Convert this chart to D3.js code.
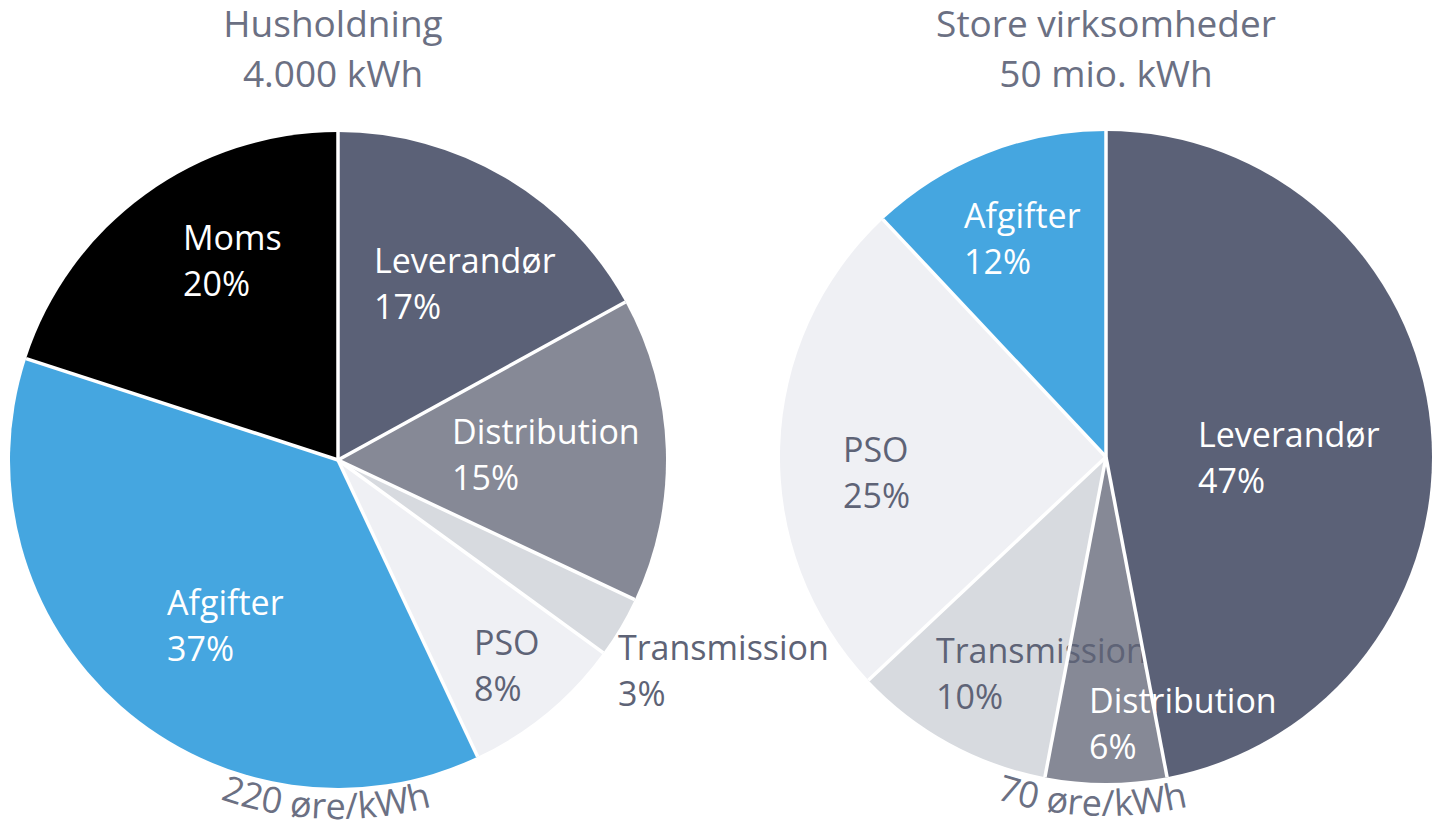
<!DOCTYPE html>
<html>
<head>
<meta charset="utf-8">
<script src="https://cdn.jsdelivr.net/npm/d3@7"></script>
<style>
  html, body { margin: 0; padding: 0; background: #ffffff; }
  svg { display: block; }
  text { font-family: "Open Sans", "Noto Sans", sans-serif; }
</style>
</head>
<body>
<svg id="chart" width="1433" height="824"></svg>
<script>
// ---- Data ----
const householdCategories = ["Leverandør", "Distribution", "Transmission", "PSO", "Afgifter", "Moms"];
const householdShares     = [17, 15, 3, 8, 37, 20];
const businessCategories  = ["Leverandør", "Distribution", "Transmission", "PSO", "Afgifter"];
const businessShares      = [47, 6, 10, 25, 12];
const pieTitles    = [["Husholdning", "4.000 kWh"], ["Store virksomheder", "50 mio. kWh"]];
const pieTotals    = ["220 øre/kWh", "70 øre/kWh"];

// ---- Styling ----
const colorMap = {
  "Leverandør":   "#5b6177",
  "Distribution": "#868996",
  "Transmission": "#d7dadf",
  "PSO":          "#eff0f4",
  "Afgifter":     "#45a6e0",
  "Moms":         "#000000"
};
const labelColor = {
  "Leverandør": "#ffffff", "Distribution": "#ffffff", "Afgifter": "#ffffff", "Moms": "#ffffff",
  "Transmission": "#5e6376", "PSO": "#5e6376"
};
const titleColor = "#6b7083";
const fontSize = 34;
const titleSize = 37;

// label anchor offsets relative to pie centre (layout only)
const householdLabelOffsets = {
  "Leverandør": [36, -187], "Distribution": [114, -16], "Transmission": [280, 200],
  "PSO": [136, 195], "Afgifter": [-171, 155], "Moms": [-155, -210]
};
const businessLabelOffsets = {
  "Leverandør": [92, -10], "Distribution": [-17, 256], "Transmission": [-170, 206],
  "PSO": [-263, 5], "Afgifter": [-142, -229]
};

const svg = d3.select("#chart");

function drawPie(cfg) {
  const g = svg.append("g").attr("transform", `translate(${cfg.cx},${cfg.cy})`);
  const data = cfg.categories.map((c, i) => ({ cat: c, value: cfg.values[i] }));
  const pie = d3.pie().sort(null).value(d => d.value);
  const arc = d3.arc().innerRadius(0).outerRadius(cfg.r);
  const arcs = pie(data);

  g.selectAll("path.slice")
    .data(arcs)
    .join("path")
    .attr("class", "slice")
    .attr("d", arc)
    .attr("fill", d => colorMap[d.data.cat]);

  // labels
  const lab = g.selectAll("text.lab")
    .data(arcs)
    .join("text")
    .attr("class", "lab")
    .attr("x", d => cfg.offsets[d.data.cat][0])
    .attr("y", d => cfg.offsets[d.data.cat][1])
    .attr("fill", d => labelColor[d.data.cat])
    .attr("font-size", fontSize);
  lab.append("tspan").text(d => d.data.cat);
  lab.append("tspan")
    .attr("x", d => cfg.offsets[d.data.cat][0])
    .attr("dy", 46)
    .text(d => d.data.value + "%");

  // white separators drawn above labels
  g.selectAll("line.sep")
    .data(arcs)
    .join("line")
    .attr("class", "sep")
    .attr("x1", 0).attr("y1", 0)
    .attr("x2", d => cfg.r * Math.sin(d.startAngle))
    .attr("y2", d => -cfg.r * Math.cos(d.startAngle))
    .attr("stroke", "#ffffff")
    .attr("stroke-width", 3.5);

  // title
  const t = svg.append("text")
    .attr("x", cfg.titleX)
    .attr("y", 37)
    .attr("text-anchor", "middle")
    .attr("fill", titleColor)
    .attr("font-size", titleSize);
  t.append("tspan").attr("x", cfg.titleX).text(cfg.title[0]);
  t.append("tspan").attr("x", cfg.titleX).attr("dy", 50).text(cfg.title[1]);

  // curved total label along bottom
  const R = cfg.r + cfg.totalGap;
  const mid = Math.PI + cfg.totalRot; // angle from 12 o'clock clockwise
  const span = 0.7;
  const a0 = mid + span, a1 = mid - span;
  const p0 = [R * Math.sin(a0), -R * Math.cos(a0)];
  const p1 = [R * Math.sin(a1), -R * Math.cos(a1)];
  g.append("path")
    .attr("id", cfg.id + "-arc")
    .attr("d", `M${p0[0]},${p0[1]} A${R},${R} 0 0 0 ${p1[0]},${p1[1]}`)
    .attr("fill", "none");
  g.append("text")
    .attr("fill", titleColor)
    .attr("font-size", 36)
    .append("textPath")
    .attr("href", "#" + cfg.id + "-arc")
    .attr("startOffset", "50%")
    .attr("text-anchor", "middle")
    .text(cfg.total);
}

drawPie({
  id: "hh", cx: 338, cy: 460, r: 328, categories: householdCategories, values: householdShares,
  offsets: householdLabelOffsets, title: pieTitles[0], titleX: 333, total: pieTotals[0], totalRot: 0.035, totalGap: 31
});
drawPie({
  id: "biz", cx: 1106, cy: 457, r: 326, categories: businessCategories, values: businessShares,
  offsets: businessLabelOffsets, title: pieTitles[1], titleX: 1106, total: pieTotals[1], totalRot: 0.04, totalGap: 33
});
</script>
</body>
</html>
